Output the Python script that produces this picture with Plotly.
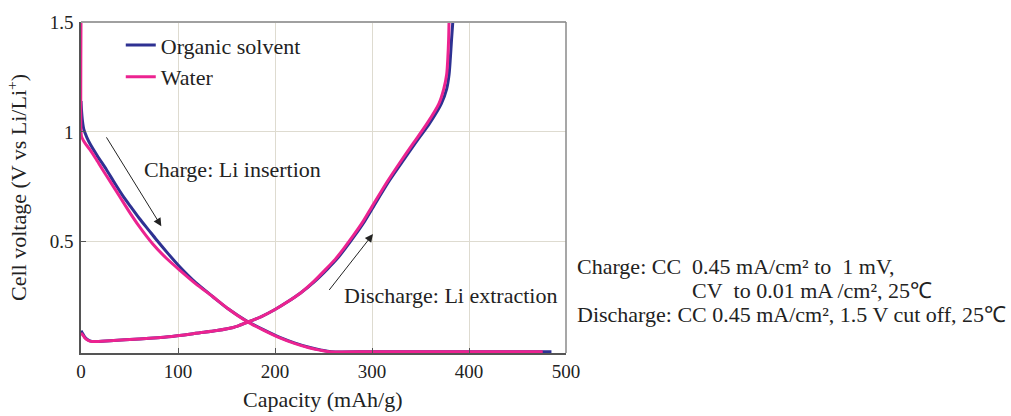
import plotly.graph_objects as go

# Charge (Li insertion) curves: capacity (mAh/g) vs cell voltage (V vs Li/Li+)
organic_charge_cap = [0, 0.5, 1.5, 3, 6, 10, 17, 26, 35, 43, 52, 60, 70, 78, 90, 102, 118, 136,
                      152, 170, 188, 205, 220, 235, 248, 258, 300, 400, 485]
organic_charge_v = [1.14, 1.1, 1.05, 1.01, 0.975, 0.94, 0.89, 0.83, 0.765, 0.71, 0.655, 0.607,
                    0.552, 0.508, 0.445, 0.385, 0.315, 0.25, 0.194, 0.142, 0.1, 0.065, 0.04, 0.02,
                    0.007, 0.0, 0.0, 0.0, 0.0]

water_charge_cap = [0, 0, 0.5, 2, 4, 9, 15, 22, 30, 40, 50, 60, 74, 88, 102, 118, 136, 152, 170,
                    188, 205, 220, 235, 246, 256, 300, 400, 476]
water_charge_v = [1.5, 1.0, 0.98, 0.965, 0.95, 0.92, 0.88, 0.83, 0.775, 0.705, 0.635, 0.57, 0.49,
                  0.425, 0.37, 0.31, 0.25, 0.194, 0.14, 0.098, 0.063, 0.038, 0.018, 0.007, 0.0,
                  0.0, 0.0, 0.0]

# Discharge (Li extraction) curves
organic_dis_cap = [0, 2, 4, 7, 10, 14, 30, 60, 90, 122.5, 140, 157, 172, 186, 200, 213, 226, 241,
                   254.5, 263.5, 272.5, 282.5, 292.5, 301.5, 317, 331, 345, 359.5, 371.5, 377,
                   379.5, 380.8, 382, 383.3]
organic_dis_v = [0.095, 0.08, 0.066, 0.054, 0.048, 0.046, 0.05, 0.058, 0.068, 0.086, 0.096, 0.11,
                 0.135, 0.16, 0.192, 0.227, 0.266, 0.32, 0.378, 0.42, 0.47, 0.53, 0.594, 0.66,
                 0.772, 0.862, 0.951, 1.04, 1.129, 1.196, 1.263, 1.338, 1.42, 1.5]

water_dis_cap = [0, 2, 4, 7, 10, 14, 30, 60, 90, 122.5, 140, 157, 172, 186, 200, 213, 226, 240,
                 253, 262, 271, 281, 291, 300, 315.5, 329, 343, 357, 369, 374, 377, 378.2, 379,
                 379.4]
water_dis_v = [0.085, 0.075, 0.062, 0.052, 0.047, 0.046, 0.05, 0.058, 0.068, 0.086, 0.096, 0.11,
               0.135, 0.16, 0.192, 0.227, 0.266, 0.32, 0.378, 0.42, 0.47, 0.53, 0.594, 0.66,
               0.772, 0.862, 0.951, 1.04, 1.129, 1.196, 1.263, 1.338, 1.42, 1.5]

x_ticks = [0, 100, 200, 300, 400, 500]
y_ticks = [0.5, 1, 1.5]
y_tick_text = ["0.5", "1", "1.5"]

BLUE = "#2e3192"
PINK = "#ec2390"
SERIF = "Liberation Serif"

fig = go.Figure()
fig.add_trace(go.Scatter(
    x=organic_charge_cap + [None] + organic_dis_cap,
    y=organic_charge_v + [None] + organic_dis_v,
    mode="lines", name="Organic solvent",
    line=dict(color=BLUE, width=3, shape="spline", smoothing=0.7),
))
fig.add_trace(go.Scatter(
    x=water_charge_cap + [None] + water_dis_cap,
    y=water_charge_v + [None] + water_dis_v,
    mode="lines", name="Water",
    line=dict(color=PINK, width=3, shape="spline", smoothing=0.7),
))

axis_font = dict(family=SERIF, size=19, color="#222")

fig.update_xaxes(
    range=[0, 500], tickvals=x_ticks, ticks="inside", ticklen=5, tickcolor="#555",
    showgrid=True, gridcolor="#dedbd0", gridwidth=1, zeroline=False,
    showline=True, linecolor="#555", linewidth=1.5,
    tickfont=axis_font, ticklabelstandoff=0,
)
fig.update_yaxes(
    range=[-0.006, 1.5], tickvals=y_ticks, ticktext=y_tick_text, ticks="inside",
    ticklen=5, tickcolor="#555",
    showgrid=True, gridcolor="#dedbd0", gridwidth=1, zeroline=False,
    showline=True, linecolor="#555", linewidth=1.5,
    tickfont=axis_font, ticklabelstandoff=2,
)

# top and right frame lines in lighter grey
fig.add_shape(type="line", xref="paper", yref="paper", x0=0, x1=1, y0=1, y1=1,
              line=dict(color="#a0a0a0", width=2), layer="above")
fig.add_shape(type="line", xref="paper", yref="paper", x0=1, x1=1, y0=0, y1=1,
              line=dict(color="#8a8a8a", width=1.5), layer="above")

text_font = dict(family=SERIF, size=22, color="#222")

annotations = [
    # axis titles
    dict(text="Capacity (mAh/g)", xref="paper", yref="paper", x=0.497, y=-0.14,
         xanchor="center", yanchor="middle", showarrow=False, font=text_font),
    dict(text="Cell voltage (V vs Li/Li<sup>+</sup>)", xref="paper", yref="paper",
         x=-0.133, y=0.5, xanchor="center", yanchor="middle", textangle=-90,
         showarrow=False, font=text_font),
    # process labels
    dict(text="Charge: Li insertion", x=62.4, y=0.83, xref="x", yref="y",
         xanchor="left", yanchor="middle", showarrow=False, font=text_font),
    dict(text="Discharge: Li extraction", x=268.7, y=0.254, xref="x", yref="y",
         xanchor="left", yanchor="middle", showarrow=False, font=text_font),
    # arrows
    dict(x=82.8, y=0.571, ax=25.3, ay=0.982, xref="x", yref="y", axref="x", ayref="y",
         text="", showarrow=True, arrowhead=2, arrowsize=1.6, arrowwidth=1, arrowcolor="#222"),
    dict(x=301, y=0.535, ax=254.7, ay=0.274, xref="x", yref="y", axref="x", ayref="y",
         text="", showarrow=True, arrowhead=2, arrowsize=1.6, arrowwidth=1, arrowcolor="#222"),
    # test conditions
    dict(text="Charge: CC\u00a0\u00a00.45 mA/cm² to\u00a0\u00a01 mV,", xref="paper", yref="paper",
         x=(575 - 81) / 485, y=(353 - 265) / 336, xanchor="left", yanchor="middle",
         showarrow=False, font=text_font),
    dict(text="CV\u00a0\u00a0to 0.01 mA /cm², 25℃", xref="paper", yref="paper",
         x=(690 - 81) / 485, y=(353 - 290) / 336, xanchor="left", yanchor="middle",
         showarrow=False, font=text_font),
    dict(text="Discharge: CC 0.45 mA/cm², 1.5 V cut off, 25℃", xref="paper", yref="paper",
         x=(575 - 81) / 485, y=(353 - 314) / 336, xanchor="left", yanchor="middle",
         showarrow=False, font=text_font),
]

fig.update_layout(
    width=1011, height=416,
    margin=dict(l=81, r=445, t=17, b=63),
    paper_bgcolor="white", plot_bgcolor="white",
    font=dict(family=SERIF, color="#222"),
    showlegend=True,
    legend=dict(x=0.082, y=0.993, xanchor="left", yanchor="top",
                bgcolor="rgba(0,0,0,0)", font=dict(family=SERIF, size=22, color="#222"),
                tracegroupgap=0),
    annotations=annotations,
)

fig.write_html("out.html")
